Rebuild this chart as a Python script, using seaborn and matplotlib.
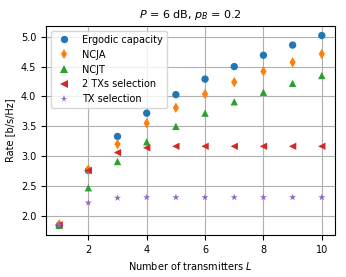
import pandas as pd
import matplotlib.pyplot as plt
import seaborn as sns
from matplotlib.lines import Line2D

# Rates, L = 1..10
n_tx = [1, 2, 3, 4, 5, 6, 7, 8, 9, 10]
ergodic = [1.84, 2.76, 3.33, 3.72, 4.03, 4.29, 4.50, 4.69, 4.86, 5.02]
ncja = [1.86, 2.78, 3.20, 3.55, 3.81, 4.04, 4.24, 4.42, 4.57, 4.71]
ncjt = [1.84, 2.47, 2.91, 3.24, 3.50, 3.72, 3.91, 4.07, 4.22, 4.35]
two_tx_sel = [1.85, 2.76, 3.06, 3.14, 3.165, 3.165, 3.165, 3.165, 3.165, 3.165]
tx_sel = [1.85, 2.22, 2.30, 2.31, 2.31, 2.31, 2.31, 2.31, 2.31, 2.31]

schemes = ['Ergodic capacity', 'NCJA', 'NCJT', '2 TXs selection', 'TX selection']
markers = {'Ergodic capacity': 'o', 'NCJA': 'd', 'NCJT': '^',
           '2 TXs selection': '<', 'TX selection': '*'}

df = pd.DataFrame({
    'L': n_tx * 5,
    'rate': ergodic + ncja + ncjt + two_tx_sel + tx_sel,
    'scheme': [s for s in schemes for _ in n_tx],
})

plt.rcParams['font.size'] = 7
fig, ax = plt.subplots(figsize=(3.46, 2.77), dpi=100)

palette = sns.color_palette('tab10', len(schemes))
sns.scatterplot(data=df, x='L', y='rate', hue='scheme', style='scheme',
                hue_order=schemes, style_order=schemes, markers=markers,
                palette=palette, s=28, linewidth=0, ax=ax, zorder=3,
                legend=False)

ax.grid(True, color='#b0b0b0', linewidth=0.8)
ax.set_axisbelow(True)
ax.set_title('$P$ = 6 dB, $p_B$ = 0.2', fontsize=8)
ax.set_xlabel('Number of transmitters $L$', fontsize=7)
ax.set_ylabel('Rate [b/s/Hz]', fontsize=7)
ax.tick_params(labelsize=7)

# plain line-style handles so the marker sits in the middle of the handle
handles = [Line2D([], [], linestyle='none', marker=markers[s], color=c,
                  markersize=5.3, markeredgewidth=0)
           for s, c in zip(schemes, palette)]
ax.legend(handles, schemes, loc='upper left', fontsize=7,
          handlelength=2, handletextpad=0.8)

fig.subplots_adjust(left=0.133, right=0.968, top=0.906, bottom=0.152)
plt.savefig('out.png', dpi=100)
